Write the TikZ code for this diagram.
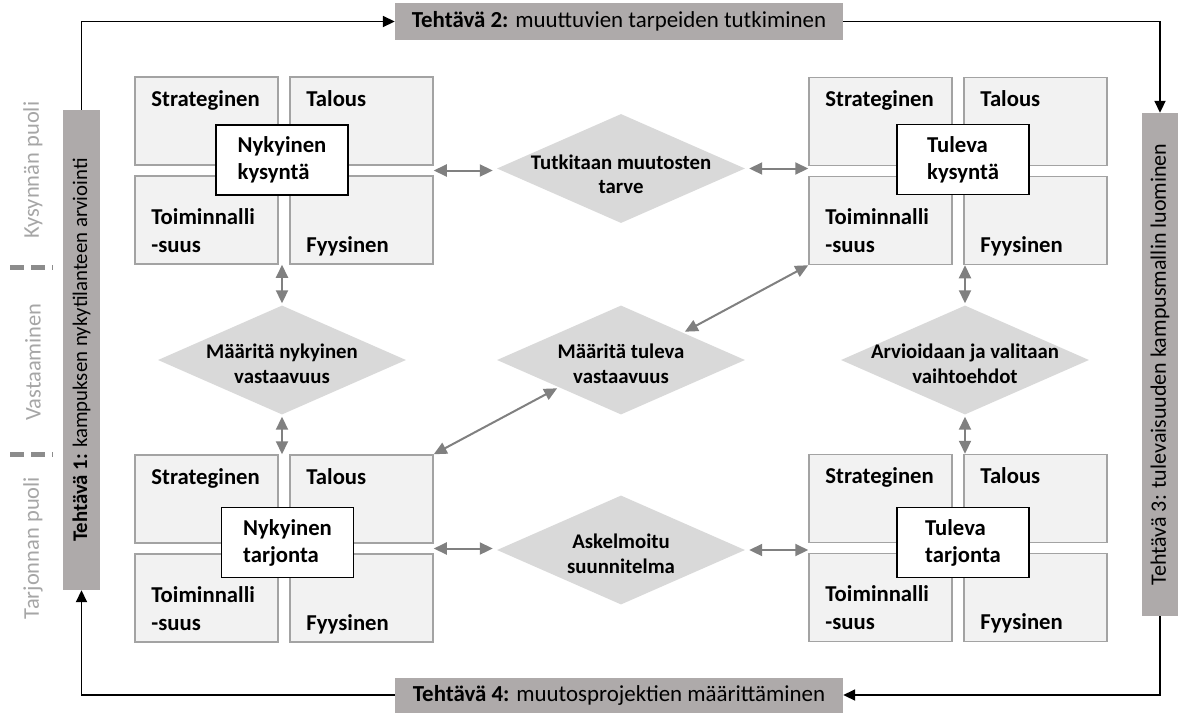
\documentclass[tikz,border=0pt]{standalone}
\usepackage{fontspec}
\setmainfont{Carlito}
\usetikzlibrary{arrows.meta,shapes.geometric,calc}

\definecolor{cellfill}{HTML}{F2F2F2}
\definecolor{cellline}{HTML}{A3A3A3}
\definecolor{diafill}{HTML}{D9D9D9}
\definecolor{taskfill}{HTML}{AEAAAA}
\definecolor{linkgray}{HTML}{808080}
\definecolor{sidegray}{HTML}{A6A6A6}
\definecolor{dashgray}{HTML}{8C8C8C}

\tikzset{
  cell/.style={draw=cellline, line width=1.5pt, fill=cellfill,
    minimum width=143pt, minimum height=88pt, inner sep=0pt},
  celltext/.style={font=\fontsize{22.7}{27}\selectfont\bfseries,
    anchor=base west, inner sep=0pt},
  core/.style={draw=black, line width=1.6pt, fill=white,
    minimum width=132pt, minimum height=70pt, inner sep=0pt, align=left,
    font=\fontsize{22.7}{27}\selectfont\bfseries},
  dia/.style={diamond, fill=diafill, draw=none,
    minimum width=248pt, minimum height=109pt, inner sep=0pt},
  diatext/.style={font=\fontsize{20.8}{24.5}\selectfont\bfseries,
    align=center, inner sep=0pt},
  task/.style={fill=taskfill, inner sep=0pt, font=\fontsize{22.9}{26}\selectfont},
  link/.style={draw=linkgray, line width=2pt,
    {Triangle[length=13pt,width=12pt]}-{Triangle[length=13pt,width=12pt]}},
  flow/.style={draw=black, line width=1.8pt, -{Triangle[length=12pt,width=11pt]}},
  side/.style={text=sidegray, font=\fontsize{22.5}{26}\selectfont, rotate=90, inner sep=0pt},
  divider/.style={draw=dashgray, line width=5pt, dash pattern=on 14pt off 7pt},
}

% A group of four aspect cells with a framed title box over their centre
% #1 name, #2 centre x, #3 centre y, #4 title box position, #5 title
\newcommand{\quadgroup}[5]{%
  \node[cell] (#1-tl) at ({#2-77.5},{#3-49.5}) {};
  \node[cell] (#1-tr) at ({#2+77.5},{#3-49.5}) {};
  \node[cell] (#1-bl) at ({#2-77.5},{#3+49.5}) {};
  \node[cell] (#1-br) at ({#2+77.5},{#3+49.5}) {};
  \node[celltext] (#1-s) at ($(#1-tl.north west)+(17,30)$) {Strateginen};
  \node[celltext] (#1-t) at ($(#1-tr.north west)+(17,30)$) {Talous};
  \node[celltext] (#1-o) at ($(#1-bl.north west)+(17,49)$) {Toiminnalli};
  \node[celltext] (#1-u) at ($(#1-bl.north west)+(17,77)$) {-suus};
  \node[celltext] (#1-f) at ($(#1-br.north west)+(17,77)$) {Fyysinen};
  \node[core] (#1-core) at (#4) {#5};
  \coordinate (#1-E) at ($(#1-tr.south east)!0.5!(#1-br.north east)$);
  \coordinate (#1-W) at ($(#1-tl.south west)!0.5!(#1-bl.north west)$);
}

\begin{document}
\begin{tikzpicture}[x=1pt,y=-1pt]
  \useasboundingbox (0,0) rectangle (1182,713);

  % four aspect groups
  \quadgroup{nk}{284}{170.5}{282,160}{Nykyinen\\kysyntä}
  \quadgroup{nt}{284}{548.5}{287.5,542.5}{Nykyinen\\tarjonta}
  \quadgroup{tk}{958}{171}{963,159.5}{Tuleva\\kysyntä}
  \quadgroup{tt}{958}{548}{963,542.5}{Tuleva\\tarjonta}

  % decision diamonds
  \node[dia] (dtut) at (621,168.5) {};
  \node[diatext] at ($(dtut.center)+(0,6)$) {Tutkitaan muutosten\\tarve};
  \node[dia] (dmn) at (282,360) {};
  \node[diatext] at ($(dmn.center)+(0,4)$) {Määritä nykyinen\\vastaavuus};
  \node[dia] (dmt) at (621,360) {};
  \node[diatext] at ($(dmt.center)+(0,4)$) {Määritä tuleva\\vastaavuus};
  \node[dia] (dask) at (621,550) {};
  \node[diatext] at ($(dask.center)+(0,4)$) {Askelmoitu\\suunnitelma};
  \node[dia] (darv) at (965,360) {};
  \node[diatext] at ($(darv.center)+(0,4)$) {Arvioidaan ja valitaan\\vaihtoehdot};

  % two-way links
  \draw[link, shorten >=4pt] (nk-E) -- (nk-E -| dtut.west);
  \draw[link, shorten <=4pt] (dtut.east) -- (dtut.east -| tk-W);
  \draw[link, shorten >=4pt] (nt-E) -- (nt-E -| dask.west);
  \draw[link, shorten <=4pt] (dask.east) -- (dask.east -| tt-W);
  \draw[link, shorten <=2pt] (dmn.north) -- (dmn.north |- nk-bl.south);
  \draw[link, shorten <=2pt] (dmn.south) -- (dmn.south |- nt-tl.north);
  \draw[link, shorten <=2pt] (darv.north) -- (darv.north |- tk-bl.south);
  \draw[link, shorten <=2pt] (darv.south) -- (darv.south |- tt-tl.north);
  \draw[link, shorten <=2pt] (dmt.north east) -- (tk-bl.south west);
  \draw[link, shorten <=2pt] (dmt.south west) -- (nt-tr.north east);

  % task boxes
  \node[task, minimum width=448pt, minimum height=37pt] (t2) at (619,21.5)
    {\textbf{Tehtävä 2:} muuttuvien tarpeiden tutkiminen};
  \node[task, minimum width=448pt, minimum height=35pt] (t4) at (619,695)
    {\textbf{Tehtävä 4:} muutosprojektien määrittäminen};
  \node[task, rotate=90, minimum width=480pt, minimum height=37pt,
    font=\fontsize{20.8}{24}\selectfont] (t1) at (81.5,350)
    {\textbf{Tehtävä 1:} kampuksen nykytilanteen arviointi};
  \node[task, rotate=90, minimum width=503pt, minimum height=36pt,
    font=\fontsize{22}{24}\selectfont] (t3) at (1160,364.5)
    {Tehtävä 3: tulevaisuuden kampusmallin luominen};

  % task cycle
  \draw[flow] (t1.east) |- (t2.west);
  \draw[flow] (t2.east) -| (t3.east);
  \draw[flow] (t3.west) |- (t4.east);
  \draw[flow] (t4.west) -| (t1.west);

  % side zones
  \node[side] (zk) at (33,170) {Kysynnän puoli};
  \node[side] (zv) at (33,362) {Vastaaminen};
  \node[side] (zt) at (33,548) {Tarjonnan puoli};
  \draw[divider] (10,267) -- (53,267);
  \draw[divider] (10,454) -- (53,454);
\end{tikzpicture}
\end{document}
